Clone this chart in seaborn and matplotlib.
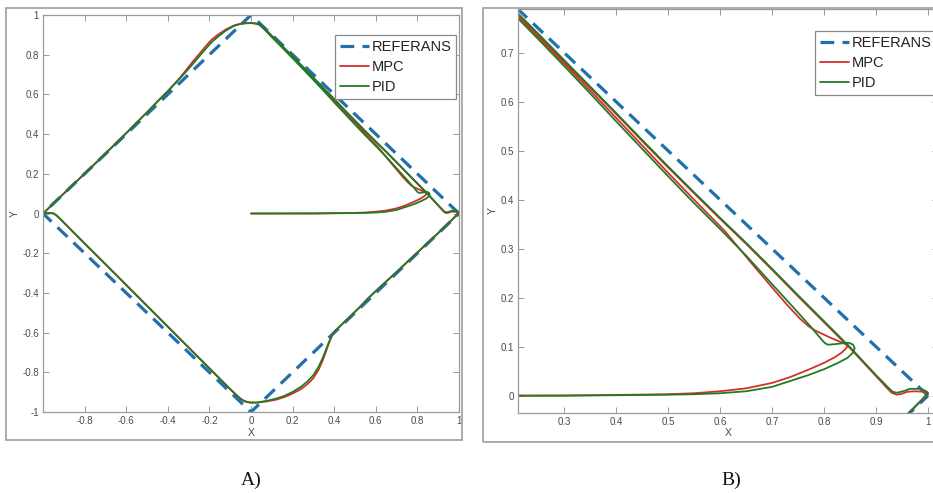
import matplotlib
matplotlib.use("Agg")
import matplotlib.pyplot as plt
from matplotlib.patches import Rectangle
import seaborn as sns

# ---------------- data ----------------
SERIES = ["REFERANS", "MPC", "PID"]

REF_X = [1.0, 0.0, -1.0, 0.0, 1.0]
REF_Y = [0.0, 1.0, 0.0, -1.0, 0.0]

MPC_X = [0.00, 0.20, 0.30, 0.40, 0.50, 0.55, 0.60, 0.65, 0.70, 0.735, 0.77, 0.80, 0.82, 0.834, 0.842, 0.846,
         0.831, 0.815, 0.799, 0.783, 0.770, 0.754, 0.73, 0.70, 0.66, 0.61, 0.55, 0.50, 0.45, 0.40, 0.35, 0.30, 0.25, 0.20, 0.15, 0.10, 0.06, 0.04,
         0.02, 0.00, -0.03, -0.05,
         -0.08, -0.12, -0.16, -0.19, -0.22, -0.25, -0.28, -0.31, -0.34, -0.37, -0.40, -0.45, -0.50, -0.55, -0.60, -0.70, -0.80, -0.90, -0.96, -1.0,
         -0.99, -0.97, -0.95, -0.935, -0.92, -0.90, -0.80, -0.70, -0.60, -0.50, -0.40, -0.30, -0.20, -0.10, -0.06, -0.04, -0.02, 0.00, 0.03,
         0.08, 0.12, 0.16, 0.20, 0.24, 0.27, 0.30, 0.325, 0.345, 0.36, 0.375, 0.39, 0.41, 0.44, 0.48, 0.52, 0.56, 0.60, 0.70, 0.80, 0.90, 0.96, 0.99, 1.0,
         0.992, 0.975, 0.96, 0.95, 0.94, 0.93, 0.92,
         0.90, 0.85, 0.80, 0.75, 0.70, 0.65, 0.60, 0.55, 0.50, 0.45, 0.40, 0.35, 0.30, 0.25, 0.20, 0.15, 0.10, 0.06, 0.04]
MPC_Y = [0.000, 0.000, 0.0005, 0.0015, 0.003, 0.005, 0.009, 0.015, 0.026, 0.038, 0.053, 0.067, 0.078, 0.088, 0.096, 0.103,
         0.110, 0.117, 0.125, 0.133, 0.142, 0.157, 0.184, 0.221, 0.271, 0.335, 0.400, 0.455, 0.511, 0.567, 0.623, 0.678, 0.732, 0.786, 0.839, 0.891, 0.934, 0.952,
         0.958, 0.960, 0.959, 0.956,
         0.948, 0.928, 0.900, 0.875, 0.840, 0.802, 0.765, 0.725, 0.686, 0.651, 0.617, 0.565, 0.510, 0.458, 0.405, 0.302, 0.201, 0.101, 0.040, 0.0,
         0.002, 0.002, 0.0, -0.010, -0.025, -0.046, -0.152, -0.256, -0.361, -0.466, -0.571, -0.676, -0.781, -0.886, -0.926, -0.942, -0.950, -0.953, -0.953,
         -0.946, -0.938, -0.925, -0.907, -0.885, -0.861, -0.829, -0.787, -0.740, -0.697, -0.652, -0.614, -0.587, -0.556, -0.516, -0.475, -0.431, -0.391, -0.295, -0.197, -0.099, -0.039, -0.007, 0.004,
         0.008, 0.009, 0.008, 0.004, 0.002, 0.006, 0.017,
         0.040, 0.097, 0.150, 0.203, 0.257, 0.310, 0.361, 0.413, 0.466, 0.520, 0.575, 0.629, 0.683, 0.737, 0.790, 0.843, 0.894, 0.936, 0.954]

PID_X = [0.00, 0.20, 0.30, 0.40, 0.50, 0.55, 0.60, 0.65, 0.70, 0.735, 0.77, 0.80, 0.825, 0.845, 0.855, 0.859, 0.856, 0.848, 0.835, 0.82, 0.808, 0.802, 0.795,
         0.775, 0.754, 0.70, 0.65, 0.603, 0.55, 0.50, 0.45, 0.40, 0.35, 0.30, 0.25, 0.20, 0.15, 0.10, 0.06, 0.04,
         0.02, 0.00, -0.03, -0.05,
         -0.08, -0.12, -0.16, -0.19, -0.22, -0.25, -0.28, -0.31, -0.34, -0.37, -0.40, -0.45, -0.50, -0.55, -0.60, -0.70, -0.80, -0.90, -0.96, -1.0,
         -0.99, -0.97, -0.95, -0.935, -0.92, -0.90, -0.80, -0.70, -0.60, -0.50, -0.40, -0.30, -0.20, -0.10, -0.06, -0.04, -0.02, 0.00, 0.03,
         0.08, 0.12, 0.16, 0.20, 0.24, 0.27, 0.30, 0.325, 0.345, 0.36, 0.375, 0.39, 0.41, 0.44, 0.48, 0.52, 0.56, 0.60, 0.70, 0.80, 0.90, 0.96, 0.99, 1.0,
         0.995, 0.985, 0.965, 0.952, 0.94, 0.932, 0.925,
         0.90, 0.85, 0.80, 0.75, 0.70, 0.65, 0.60, 0.55, 0.50, 0.45, 0.40, 0.35, 0.30, 0.25, 0.20, 0.15, 0.10, 0.06, 0.04]
PID_Y = [0.000, 0.000, 0.000, 0.001, 0.002, 0.003, 0.005, 0.009, 0.018, 0.030, 0.042, 0.054, 0.066, 0.077, 0.087, 0.097, 0.104, 0.108, 0.107, 0.105, 0.104, 0.107, 0.115,
         0.140, 0.165, 0.228, 0.286, 0.337, 0.393, 0.448, 0.504, 0.560, 0.617, 0.673, 0.728, 0.782, 0.836, 0.889, 0.933, 0.951,
         0.957, 0.959, 0.958, 0.955,
         0.946, 0.922, 0.890, 0.862, 0.827, 0.790, 0.753, 0.717, 0.682, 0.649, 0.615, 0.563, 0.509, 0.457, 0.404, 0.301, 0.200, 0.100, 0.040, 0.0,
         0.003, 0.003, 0.001, -0.009, -0.024, -0.045, -0.150, -0.254, -0.359, -0.464, -0.569, -0.674, -0.779, -0.884, -0.924, -0.940, -0.949, -0.952, -0.952,
         -0.943, -0.933, -0.919, -0.899, -0.873, -0.847, -0.814, -0.772, -0.727, -0.687, -0.647, -0.611, -0.585, -0.555, -0.515, -0.474, -0.430, -0.390, -0.294, -0.196, -0.098, -0.038, -0.006, 0.006,
         0.010, 0.014, 0.014, 0.009, 0.006, 0.008, 0.015,
         0.042, 0.099, 0.152, 0.205, 0.259, 0.312, 0.363, 0.415, 0.468, 0.522, 0.577, 0.631, 0.685, 0.739, 0.792, 0.844, 0.895, 0.937, 0.955]

A_XTICKS = [-0.8, -0.6, -0.4, -0.2, 0.0, 0.2, 0.4, 0.6, 0.8, 1.0]
A_XTICKLABELS = ["-0.8", "-0.6", "-0.4", "-0.2", "0", "0.2", "0.4", "0.6", "0.8", "1"]
A_YTICKS = [-1.0, -0.8, -0.6, -0.4, -0.2, 0.0, 0.2, 0.4, 0.6, 0.8, 1.0]
A_YTICKLABELS = ["-1", "-0.8", "-0.6", "-0.4", "-0.2", "0", "0.2", "0.4", "0.6", "0.8", "1"]
B_XTICKS = [0.3, 0.4, 0.5, 0.6, 0.7, 0.8, 0.9, 1.0]
B_XTICKLABELS = ["0.3", "0.4", "0.5", "0.6", "0.7", "0.8", "0.9", "1"]
B_YTICKS = [0.0, 0.1, 0.2, 0.3, 0.4, 0.5, 0.6, 0.7]
B_YTICKLABELS = ["0", "0.1", "0.2", "0.3", "0.4", "0.5", "0.6", "0.7"]

# ---------------- style ----------------
sns.set_theme(style="white")
plt.rcParams["font.family"] = ["Liberation Sans", "DejaVu Sans"]

C_REF = "#1f70ad"
C_MPC = "#d4302a"
C_PID = "#237a25"
SPINE = "#9a9a9a"
TXT = "#4a4a4a"

W, H = 933, 493
fig = plt.figure(figsize=(W / 100, H / 100), dpi=100)
fig.patch.set_facecolor("white")


def px_axes(left, top, right, bottom):
    return fig.add_axes([left / W, 1 - bottom / H, (right - left) / W, (bottom - top) / H])


def draw_panel(ax, xlim, ylim, xticks, xtl, yticks, ytl, leg_anchor):
    sns.lineplot(x=REF_X, y=REF_Y, sort=False, estimator=None, ax=ax, color=C_REF,
                 lw=2.3, label=SERIES[0])
    ax.lines[-1].set_linestyle((0, (4.3, 2.6)))
    sns.lineplot(x=MPC_X, y=MPC_Y, sort=False, estimator=None, ax=ax, color=C_MPC,
                 lw=1.3, label=SERIES[1])
    sns.lineplot(x=PID_X, y=PID_Y, sort=False, estimator=None, ax=ax, color=C_PID,
                 lw=1.3, label=SERIES[2])
    ax.set_xlim(*xlim)
    ax.set_ylim(*ylim)
    ax.set_xticks(xticks)
    ax.set_xticklabels(xtl)
    ax.set_yticks(yticks)
    ax.set_yticklabels(ytl)
    ax.tick_params(direction="in", length=4, width=0.7, color=SPINE, labelsize=7,
                   labelcolor=TXT, pad=3, top=True, right=True, bottom=True, left=True)
    for s in ax.spines.values():
        s.set_color(SPINE)
        s.set_linewidth(0.9)
    ax.set_xlabel("X", fontsize=7.5, color=TXT, labelpad=1)
    ax.set_ylabel("Y", fontsize=7.5, color=TXT, labelpad=2)
    ax.grid(False)
    h, l = ax.get_legend_handles_labels()
    leg = ax.legend(h, l, loc="upper left", bbox_to_anchor=leg_anchor, fontsize=10.5,
                    handlelength=2.0, handletextpad=0.2, borderpad=0.32, labelspacing=0.42,
                    borderaxespad=0, frameon=True, fancybox=False, framealpha=1)
    leg.get_frame().set_edgecolor("#8a8a8a")
    leg.get_frame().set_linewidth(0.9)
    for t in leg.get_texts():
        t.set_color("#222222")


# Panel A
axA = px_axes(43, 15, 459, 412)
draw_panel(axA, (-1.0, 1.0), (-1.0, 1.0), A_XTICKS, A_XTICKLABELS, A_YTICKS, A_YTICKLABELS,
           ((335 - 43) / 416, (412 - 35) / 397))

# Panel B (extends beyond the right edge like the cropped original)
axB = px_axes(518, 9, 938.4, 412.7)
draw_panel(axB, (0.2115, 1.02), (-0.0347, 0.789), B_XTICKS, B_XTICKLABELS, B_YTICKS, B_YTICKLABELS,
           ((815 - 518) / 420.4, (412.7 - 31) / 403.7))

# Outer frames
for (l, t, r, b) in [(6, 8, 462, 440), (483, 8, 945, 442)]:
    fig.add_artist(Rectangle((l / W, 1 - b / H), (r - l) / W, (b - t) / H,
                             transform=fig.transFigure, fill=False, edgecolor="#a5a5a5", lw=1.3))

# Captions
fig.text(251 / W, 1 - 480 / H, "A)", family=["Liberation Serif", "DejaVu Serif"], fontsize=14,
         ha="center", va="center", color="#111111")
fig.text(731 / W, 1 - 480 / H, "B)", family=["Liberation Serif", "DejaVu Serif"], fontsize=14,
         ha="center", va="center", color="#111111")

fig.savefig("out.png", dpi=100)
